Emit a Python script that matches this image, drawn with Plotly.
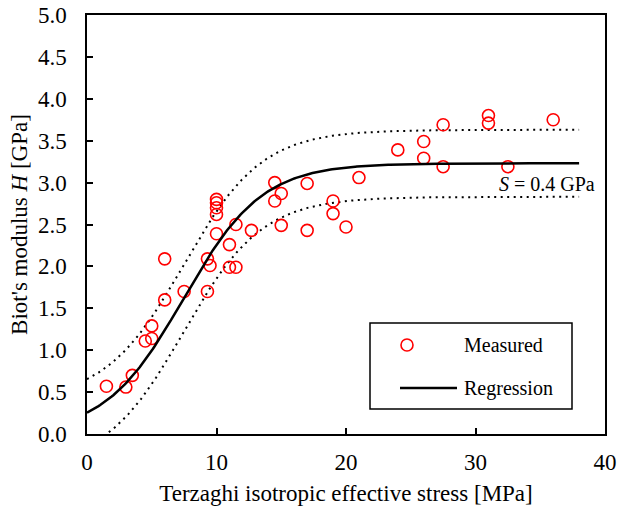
import numpy as np
import plotly.graph_objects as go

stress = [1.5, 3.0, 3.5, 4.5, 5.0, 5.0, 6.0, 6.0, 7.5, 9.3, 9.3, 9.5,
          10.0, 10.0, 10.0, 10.0, 10.0, 11.0, 11.0, 11.5, 11.5, 12.7,
          14.5, 14.5, 15.0, 15.0, 17.0, 17.0, 19.0, 19.0, 20.0, 21.0,
          24.0, 26.0, 26.0, 27.5, 27.5, 31.0, 31.0, 32.5, 36.0]
modulus = [0.57, 0.56, 0.70, 1.11, 1.14, 1.29, 1.60, 2.09, 1.70, 1.70, 2.09, 2.01,
           2.80, 2.76, 2.70, 2.62, 2.39, 2.26, 1.99, 1.99, 2.50, 2.43,
           3.00, 2.78, 2.87, 2.49, 2.99, 2.43, 2.78, 2.63, 2.47, 3.06,
           3.39, 3.49, 3.29, 3.69, 3.19, 3.80, 3.71, 3.19, 3.75]

# Regression model parameters (logistic), and scatter band S
H_max = 3.23
k = 0.33
x0 = 7.45
S = 0.4
x_fit = np.linspace(0, 38, 300)
H_fit = H_max / (1 + np.exp(-k * (x_fit - x0)))

x_ticks = [0, 10, 20, 30, 40]
y_ticks = [0, 0.5, 1, 1.5, 2, 2.5, 3, 3.5, 4, 4.5, 5]
legend_names = ["Measured", "Regression"]

FONT = "Liberation Serif, Times New Roman, serif"

# plot area in pixels
W, H = 619, 506
L, R, T, B = 87, 14, 15, 72
PW, PH = W - L - R, H - T - B


def px_x(px):
    return (px - L) / PW


def px_y(py):
    return (H - B - py) / PH


fig = go.Figure()
fig.add_trace(go.Scatter(x=x_fit, y=H_fit + S, mode="lines",
                         line=dict(color="black", width=2, dash="2px,4.5px"),
                         showlegend=False, hoverinfo="skip"))
fig.add_trace(go.Scatter(x=x_fit, y=H_fit - S, mode="lines",
                         line=dict(color="black", width=2, dash="2px,4.5px"),
                         showlegend=False, hoverinfo="skip"))
fig.add_trace(go.Scatter(x=stress, y=modulus, mode="markers", name=legend_names[0],
                         showlegend=False,
                         marker=dict(symbol="circle-open", size=12, color="red",
                                     line=dict(color="red", width=1.6))))
fig.add_trace(go.Scatter(x=x_fit, y=H_fit, mode="lines", name=legend_names[1],
                         showlegend=False,
                         line=dict(color="black", width=2.5)))

# custom legend (box, sample marker, sample line, labels)
fig.add_trace(go.Scatter(x=[px_x(407)], y=[px_y(345)], xaxis="x2", yaxis="y2",
                         mode="markers", showlegend=False, hoverinfo="skip",
                         marker=dict(symbol="circle-open", size=12, color="red",
                                     line=dict(color="red", width=1.6))))
fig.add_shape(type="rect", xref="paper", yref="paper",
              x0=px_x(370), x1=px_x(572), y0=px_y(409), y1=px_y(323),
              line=dict(color="black", width=1.5), fillcolor="rgba(0,0,0,0)")
fig.add_shape(type="line", xref="paper", yref="paper",
              x0=px_x(400), x1=px_x(457), y0=px_y(388), y1=px_y(388),
              line=dict(color="black", width=2.5))
for name, py in zip(legend_names, [345, 388]):
    fig.add_annotation(x=px_x(462), y=px_y(py), xref="paper", yref="paper",
                       text=name, showarrow=False, xanchor="left", yanchor="middle",
                       font=dict(family=FONT, size=20, color="black"))

fig.add_annotation(x=39.4, y=2.98, xref="x", yref="y",
                   text="<i>S</i> = 0.4 GPa", showarrow=False,
                   xanchor="right", yanchor="middle",
                   font=dict(family=FONT, size=20, color="black"))

fig.update_layout(
    width=W, height=H,
    margin=dict(l=L, r=R, t=T, b=B, autoexpand=False),
    paper_bgcolor="white", plot_bgcolor="white",
    font=dict(family=FONT, size=23, color="black"),
    showlegend=False,
    xaxis=dict(range=[0, 40], tickvals=x_ticks, automargin=False,
               ticks="inside", ticklen=6, tickwidth=1.5, tickcolor="black",
               ticklabelstandoff=7,
               showline=True, linecolor="black", linewidth=1.5, mirror=True,
               showgrid=False, zeroline=False,
               tickfont=dict(family=FONT, size=23),
               title=dict(text="Terzaghi isotropic effective stress [MPa]",
                          standoff=11, font=dict(family=FONT, size=23))),
    yaxis=dict(range=[0, 5], tickvals=y_ticks, tickformat=".1f", automargin=False,
               ticks="inside", ticklen=6, tickwidth=1.5, tickcolor="black",
               ticklabelstandoff=14,
               showline=True, linecolor="black", linewidth=1.5, mirror=True,
               showgrid=False, zeroline=False,
               tickfont=dict(family=FONT, size=23),
               title=dict(text="Biot's modulus <i>H</i> [GPa]",
                          standoff=4, font=dict(family=FONT, size=23))),
    xaxis2=dict(range=[0, 1], overlaying="x", visible=False, fixedrange=True),
    yaxis2=dict(range=[0, 1], overlaying="y", visible=False, fixedrange=True),
)

fig.write_html("out.html", post_script="document.body.style.margin='0';",
               config={"displayModeBar": False})
